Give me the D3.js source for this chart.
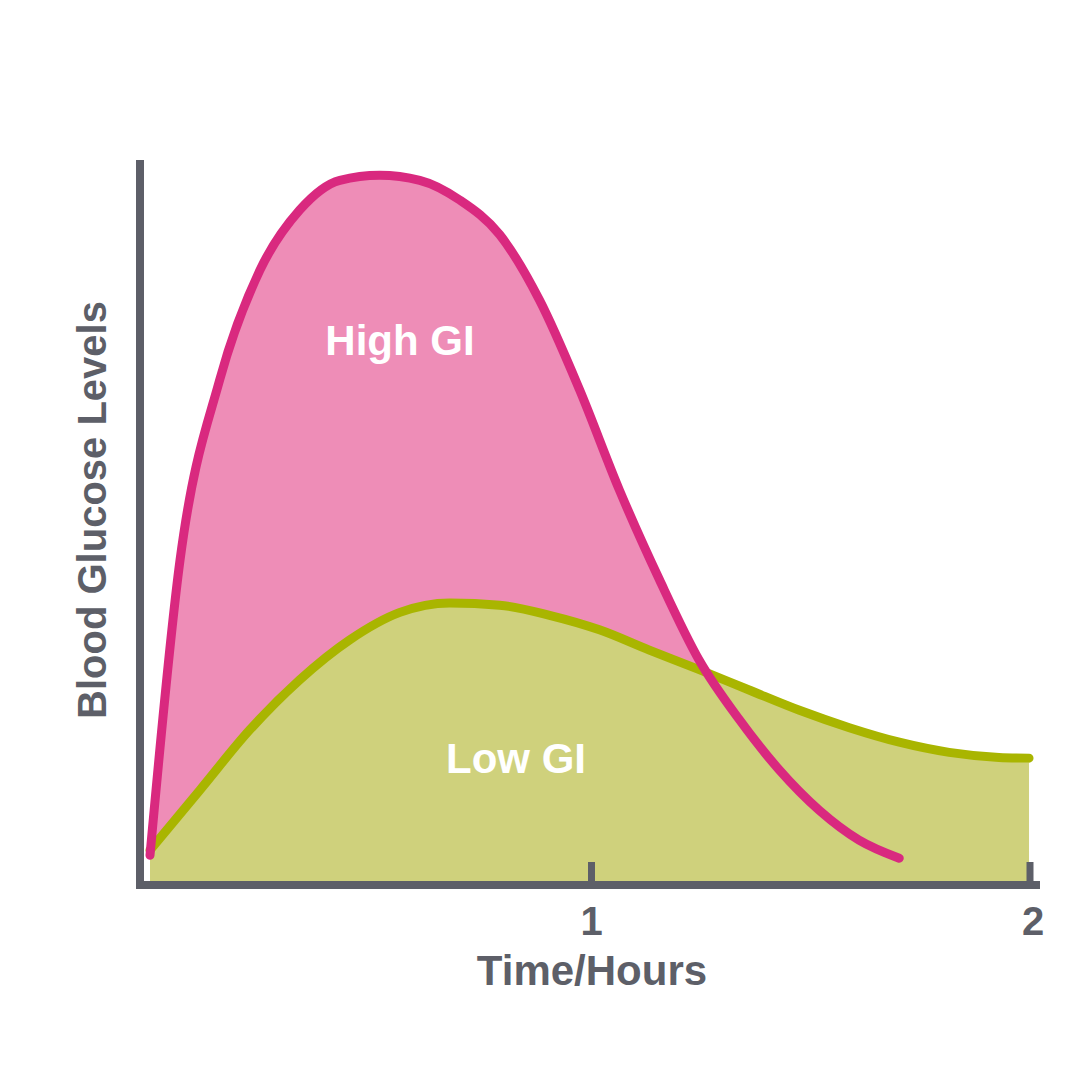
<!DOCTYPE html>
<html lang="en">
<head>
<meta charset="UTF-8">
<title>Glycemic Index</title>
<style>
  body { margin: 0; background: #fff; font-family: "Liberation Sans", Arial, sans-serif; }
</style>
</head>
<body>
<svg width="1080" height="1080"></svg>
<script src="https://d3js.org/d3.v7.min.js"></script>
<script>
const highHours = [0, 0.068, 0.158, 0.249, 0.339, 0.43, 0.52, 0.611, 0.701, 0.792, 0.882, 0.973, 1.063, 1.154, 1.244, 1.335, 1.425, 1.516, 1.606, 1.697];
const highLevels = [4.1, 44.8, 69.7, 84.8, 93.1, 97.2, 97.9, 97.2, 94.5, 89.7, 80.7, 68.3, 54.5, 42.1, 31.0, 22.8, 15.9, 10.3, 6.2, 3.7];
const lowHours = [0, 0.113, 0.226, 0.339, 0.452, 0.566, 0.679, 0.792, 0.905, 1.018, 1.131, 1.244, 1.357, 1.471, 1.584, 1.697, 1.81, 1.923, 1.991];
const lowLevels = [4.8, 13.1, 21.4, 28.3, 33.8, 37.6, 38.9, 38.6, 37.2, 35.2, 32.4, 29.7, 26.9, 24.1, 21.7, 19.7, 18.3, 17.6, 17.5];
const tickLabels = [1, 2];

const svg = d3.select("svg");
const x = d3.scaleLinear().domain([0, 2]).range([150, 1033]);
const y = d3.scaleLinear().domain([0, 100]).range([885, 160]);

const high = highHours.map((h, i) => ({ h, v: highLevels[i] }));
const low = lowHours.map((h, i) => ({ h, v: lowLevels[i] }));

const area = d3.area().x(d => x(d.h)).y0(y(0)).y1(d => y(d.v)).curve(d3.curveMonotoneX);
const line = d3.line().x(d => x(d.h)).y(d => y(d.v)).curve(d3.curveMonotoneX);

svg.append("path").datum(high).attr("d", area).attr("fill", "#ee8db7");
svg.append("path").datum(low).attr("d", area).attr("fill", "#cfd17c");
svg.append("path").datum(low).attr("d", line).attr("fill", "none")
  .attr("stroke", "#a9b500").attr("stroke-width", 9).attr("stroke-linecap", "round");
svg.append("path").datum(high).attr("d", line).attr("fill", "none")
  .attr("stroke", "#d9297f").attr("stroke-width", 9).attr("stroke-linecap", "round");

// axes
const axisColor = "#5d5f68";
svg.append("line").attr("x1", 140).attr("x2", 140).attr("y1", 160).attr("y2", 889)
  .attr("stroke", axisColor).attr("stroke-width", 8);
svg.append("line").attr("x1", 136).attr("x2", 1040).attr("y1", 885).attr("y2", 885)
  .attr("stroke", axisColor).attr("stroke-width", 8);
svg.selectAll(".tick").data(tickLabels).enter().append("line")
  .attr("x1", d => x(d) - (d === 2 ? 3 : 0)).attr("x2", d => x(d) - (d === 2 ? 3 : 0))
  .attr("y1", 862).attr("y2", 885)
  .attr("stroke", axisColor).attr("stroke-width", 7);
svg.selectAll(".tlabel").data(tickLabels).enter().append("text")
  .attr("x", d => x(d) + (d === 2 ? 0 : 0)).attr("y", 935)
  .attr("text-anchor", "middle").attr("fill", axisColor)
  .style("font-size", "40px").style("font-weight", "bold").text(d => d);

svg.append("text").attr("x", 592).attr("y", 985).attr("text-anchor", "middle")
  .attr("fill", axisColor).style("font-size", "42px").style("font-weight", "bold")
  .text("Time/Hours");
svg.append("text").attr("transform", "translate(106,510) rotate(-90)")
  .attr("text-anchor", "middle").attr("fill", axisColor)
  .style("font-size", "40px").style("font-weight", "bold").text("Blood Glucose Levels");

svg.append("text").attr("x", 400).attr("y", 355).attr("text-anchor", "middle")
  .attr("fill", "#fff").style("font-size", "42px").style("font-weight", "bold").text("High GI");
svg.append("text").attr("x", 516).attr("y", 773).attr("text-anchor", "middle")
  .attr("fill", "#fff").style("font-size", "42px").style("font-weight", "bold").text("Low GI");
</script>
</body>
</html>
